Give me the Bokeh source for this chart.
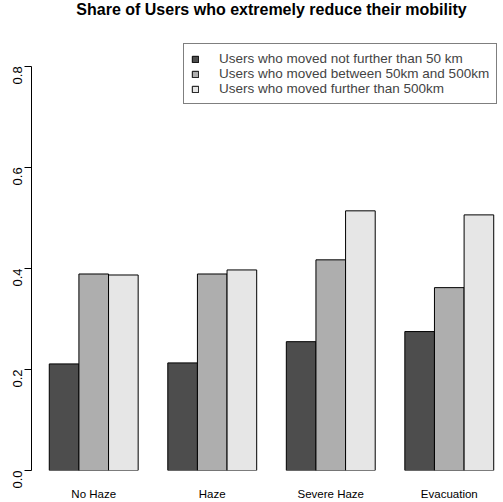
import math
from bokeh.plotting import figure
from bokeh.models import ColumnDataSource, FixedTicker, Legend, LegendItem, PrintfTickFormatter, Range1d, Label
from bokeh.embed import file_html
from bokeh.resources import INLINE

categories = ["No Haze", "Haze", "Severe Haze", "Evacuation"]
series_names = [
    "Users who moved not further than 50 km",
    "Users who moved between 50km and 500km",
    "Users who moved further than 500km",
]
near = [0.211, 0.213, 0.255, 0.275]
mid = [0.389, 0.389, 0.417, 0.362]
far = [0.387, 0.397, 0.514, 0.506]
series_values = [near, mid, far]
colors = ["#4D4D4D", "#AEAEAE", "#E6E6E6"]
y_ticks = [0.0, 0.2, 0.4, 0.6, 0.8]
title_text = "Share of Users who extremely reduce their mobility"

FONT = "Liberation Sans"
n_ser = len(series_values)
group_w = n_ser + 1  # bars + one bar of space (R barplot beside=TRUE)
n_units = group_w * len(categories)  # bars occupy 1 .. n_units
pad = 0.04 * (n_units - 1)           # R's 4% axis extension

W, H = 503, 502
left, bottom = 31, 31
px_per_x = 29.63
px_per_y = 506.25
x0 = 1 - pad
frame_w = W - left
frame_h = H - bottom

p = figure(width=W, height=H, output_backend="svg", toolbar_location=None,
           x_range=Range1d(x0, x0 + frame_w / px_per_x),
           y_range=Range1d(0, frame_h / px_per_y),
           min_border_left=left, min_border_right=0, min_border_top=0, min_border_bottom=bottom)
p.outline_line_color = None
p.xgrid.grid_line_color = None
p.ygrid.grid_line_color = None
p.background_fill_color = "white"

renderers = []
for s, vals in enumerate(series_values):
    xs = [1 + group_w * g + s + 0.5 for g in range(len(categories))]
    src = ColumnDataSource(dict(x=xs, top=vals))
    r = p.vbar(x="x", top="top", width=1.0, bottom=0, source=src,
               fill_color=colors[s], line_color="black", line_width=1)
    renderers.append(r)

# x axis: category names only
centers = [1 + group_w * g + n_ser / 2 for g in range(len(categories))]
p.xaxis.ticker = FixedTicker(ticks=centers)
p.xaxis.major_label_overrides = {c: name for c, name in zip(centers, categories)}
p.xaxis.axis_line_color = None
p.xaxis.major_tick_line_color = None
p.xaxis.minor_tick_line_color = None
p.xaxis.major_tick_out = 0
p.xaxis.major_tick_in = 0
p.xaxis.major_label_standoff = 17
p.xaxis.major_label_text_font = FONT
p.xaxis.major_label_text_font_size = "11.5px"
p.xaxis.major_label_text_color = "black"

# y axis
p.yaxis.ticker = FixedTicker(ticks=y_ticks)
p.yaxis.bounds = (y_ticks[0], y_ticks[-1])
p.yaxis.formatter = PrintfTickFormatter(format="%.1f")
p.yaxis.minor_tick_line_color = None
p.yaxis.major_tick_out = 7
p.yaxis.major_tick_in = 0
p.yaxis.major_label_standoff = 7
p.yaxis.major_label_orientation = math.pi / 2
p.yaxis.major_label_text_font = FONT
p.yaxis.major_label_text_font_size = "13px"
p.yaxis.major_label_text_color = "black"
p.yaxis.axis_line_color = "black"
p.yaxis.major_tick_line_color = "black"

# title centred over R's plot region
title = Label(x=(x0 + n_units + pad) / 2, y=(frame_h - 9) / px_per_y, text=title_text,
              text_font=FONT, text_font_size="16px", text_font_style="bold",
              text_align="center", text_baseline="middle", text_color="black")
p.add_layout(title)

legend = Legend(items=[LegendItem(label=n, renderers=[r]) for n, r in zip(series_names, renderers)],
                location=(152, 366))
legend.label_text_font = FONT
legend.label_text_font_size = "13.5px"
legend.label_text_line_height = 1.0
legend.label_height = 14
legend.glyph_width = 8
legend.glyph_height = 8
legend.label_standoff = 20
legend.spacing = 0
legend.padding = 7
legend.margin = 0
legend.border_line_color = "black"
legend.border_line_width = 1
legend.background_fill_alpha = 1.0
p.add_layout(legend, "center")

open("out.html", "w").write(file_html(p, INLINE))
